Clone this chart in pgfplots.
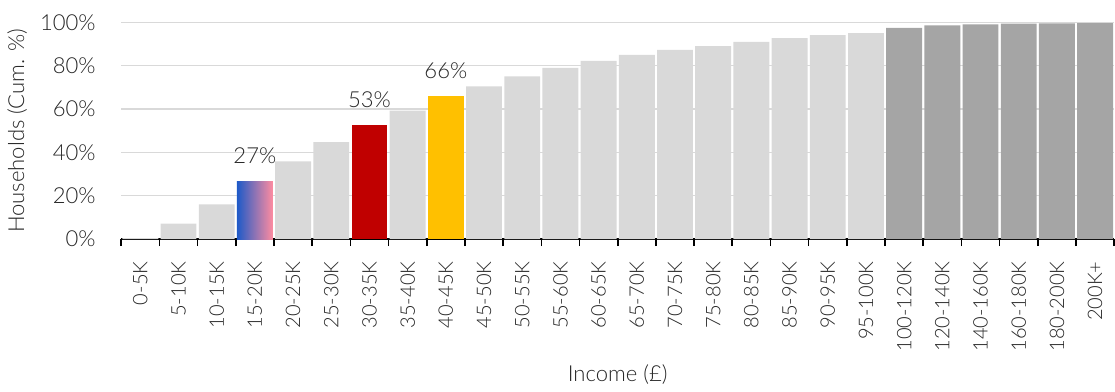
\documentclass[border=0pt]{standalone}
\usepackage{pgfplots}
\pgfplotsset{compat=1.18}
\usepackage{fontspec}
\setmainfont{Lato Light}

\definecolor{lightbar}{HTML}{D9D9D9}
\definecolor{darkbar}{HTML}{A5A5A5}
\definecolor{redbar}{HTML}{C00000}
\definecolor{yellowbar}{HTML}{FFC000}
\definecolor{gradblue}{HTML}{1E5AC8}
\definecolor{gradpink}{HTML}{FF8CA0}
\definecolor{txt}{HTML}{262626}

\begin{document}
\fontsize{22}{26}\selectfont
\begin{tikzpicture}
\begin{axis}[
    scale only axis,
    width=990pt, height=216pt,
    xmin=-0.5, xmax=25.5,
    ymin=0, ymax=100,
    axis x line*=bottom,
    axis y line*=left,
    y axis line style={draw=none},
    x axis line style={black, line width=1.6pt},
    xtick={0,...,25},
    xticklabels={0-5K,5-10K,10-15K,15-20K,20-25K,25-30K,30-35K,35-40K,40-45K,45-50K,50-55K,55-60K,60-65K,65-70K,70-75K,75-80K,80-85K,85-90K,90-95K,95-100K,100-120K,120-140K,140-160K,160-180K,180-200K,200K+},
    minor xtick={-0.5,0.5,...,25.5},
    major tick length=0pt,
    minor tick length=7pt,
    tick align=outside,
    minor x tick style={black, line width=1.6pt},
    xticklabel style={rotate=90, anchor=east, font=\fontsize{20}{24}\selectfont, text=txt, xshift=-15pt},
    ytick={0,20,...,100},
    yticklabels={0\%,20\%,40\%,60\%,80\%,100\%},
    ytick style={draw=none},
    yticklabel style={font=\fontsize{22}{26}\selectfont, text=txt, xshift=-18pt},
    ymajorgrids,
    grid style={lightbar, line width=1.2pt},
    xlabel={Income (£)},
    ylabel={Households (Cum. \%)},
    label style={font=\fontsize{22}{26}\selectfont, text=txt},
    xlabel style={yshift=2pt},
    ylabel style={yshift=-2pt},
    bar width=0.94,
    nodes near coords style={font=\fontsize{22}{26}\selectfont, text=txt, yshift=10pt},
]
% light grey bars
\addplot[ybar, bar shift=0pt, fill=lightbar, draw=none] coordinates {
    (0,0.4) (1,7.1) (2,16.0) (4,35.8) (5,44.7) (7,59.3)
    (9,70.5) (10,75.1) (11,79.0) (12,82.2) (13,85.0) (14,87.3)
    (15,89.0) (16,91.0) (17,92.7) (18,94.1) (19,95.0)
};
% dark grey bars
\addplot[ybar, bar shift=0pt, fill=darkbar, draw=none] coordinates {
    (20,97.4) (21,98.6) (22,99.1) (23,99.4) (24,99.5) (25,99.7)
};
% highlighted bars
\addplot[ybar, bar shift=0pt, draw=none, left color=gradblue, right color=gradpink,
    point meta=explicit symbolic, nodes near coords] coordinates {
    (3,26.5) [27\%]
};
\addplot[ybar, bar shift=0pt, fill=redbar, draw=none,
    point meta=explicit symbolic, nodes near coords] coordinates {
    (6,52.5) [53\%]
};
\addplot[ybar, bar shift=0pt, fill=yellowbar, draw=none,
    point meta=explicit symbolic, nodes near coords] coordinates {
    (8,65.9) [66\%]
};
\end{axis}
% a little room above the top label, as in the reference
\path ([yshift=7pt]current axis.outer north);
\end{tikzpicture}
\end{document}
